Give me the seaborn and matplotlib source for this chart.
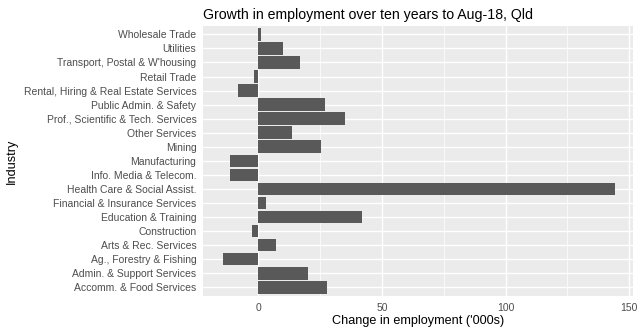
import matplotlib
matplotlib.use("Agg")
import matplotlib.pyplot as plt
import seaborn as sns
import pandas as pd
from matplotlib.ticker import MultipleLocator

industries = [
    "Wholesale Trade", "Utilities", "Transport, Postal & W'housing", "Retail Trade",
    "Rental, Hiring & Real Estate Services", "Public Admin. & Safety",
    "Prof., Scientific & Tech. Services", "Other Services", "Mining", "Manufacturing",
    "Info. Media & Telecom.", "Health Care & Social Assist.",
    "Financial & Insurance Services", "Education & Training", "Construction",
    "Arts & Rec. Services", "Ag., Forestry & Fishing", "Admin. & Support Services",
    "Accomm. & Food Services",
]
change = [1.0, 10.1, 16.8, -1.8, -8.1, 26.9, 35.0, 13.5, 25.5, -11.6,
          -11.6, 144.2, 3.1, 42.0, -2.6, 7.0, -14.3, 20.3, 28.0]
x_ticks = [0, 50, 100, 150]

df = pd.DataFrame({"Industry": industries, "Change": change})

sns.set_theme(style="darkgrid")
plt.rcParams["font.family"] = ["Liberation Sans", "DejaVu Sans"]

fig = plt.figure(figsize=(6.4, 3.36), dpi=100)
ax = fig.add_axes([0.3177, 0.12, 0.6709, 0.8027])
ax.set_facecolor("#EBEBEB")
sns.barplot(data=df, x="Change", y="Industry", orient="h", order=industries,
            color="#595959", saturation=1, width=0.9, ax=ax, linewidth=0)

ax.set_xlim(-22.2, 151.4)
ax.set_ylim(len(industries) - 0.4, -0.6)
ax.set_xticks(x_ticks)
ax.xaxis.set_minor_locator(MultipleLocator(25))
ax.grid(which="major", color="white", linewidth=1.0)
ax.grid(which="minor", axis="x", color="white", linewidth=0.5)
ax.set_axisbelow(True)
for s in ax.spines.values():
    s.set_visible(False)
ax.tick_params(axis="both", which="major", length=3, width=0.8, color="#333333",
               labelsize=7.5, labelcolor="#4D4D4D", pad=2)
ax.tick_params(axis="both", which="minor", length=0)
ax.set_xlabel("Change in employment ('000s)", fontsize=9.1, color="black", labelpad=2)
ax.set_ylabel("Industry", fontsize=9.1, color="black", labelpad=4)
ax.set_title("Growth in employment over ten years to Aug-18, Qld", fontsize=10.2,
             color="black", pad=5, loc="left")

fig.savefig("out.png", dpi=100, facecolor="white")
